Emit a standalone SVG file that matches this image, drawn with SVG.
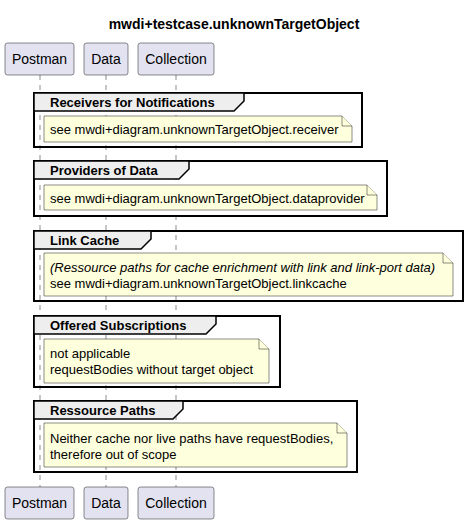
<svg xmlns="http://www.w3.org/2000/svg" width="468" height="524" viewBox="0 0 468 524">
<style>
text{font-family:"Liberation Sans",Arial,sans-serif;fill:#000}
.title{font-size:14px;font-weight:bold}
.pbox{fill:#E2E2F0;stroke:#181818;stroke-width:0.5}
.pt{font-size:14px;text-anchor:middle}
.life{stroke:#181818;stroke-width:0.5;stroke-dasharray:5,5;fill:none}
.frame{fill:none;stroke:#000;stroke-width:2}
.tab{fill:#EEEEEE;stroke:#000;stroke-width:1.5}
.gt{font-size:13px;font-weight:bold}
.note{fill:#FEFFDD;stroke:#181818;stroke-width:0.5}
.nt{font-size:13px}
.it{font-style:italic}
</style>
<rect width="468" height="524" fill="#FFFFFF"/>
<text class="title" x="234" y="29" text-anchor="middle">mwdi+testcase.unknownTargetObject</text>

<g id="connectors">
<line class="life" x1="40" y1="75" x2="40" y2="487"/>
<line class="life" x1="106" y1="75" x2="106" y2="487"/>
<line class="life" x1="176" y1="75" x2="176" y2="487"/>
</g>

<g id="participant-postman">
<rect class="pbox" x="5" y="43" width="69" height="32" rx="2.5"/>
<text class="pt" x="39.5" y="64">Postman</text>
<rect class="pbox" x="5" y="487" width="69" height="32" rx="2.5"/>
<text class="pt" x="39.5" y="508">Postman</text>
</g>
<g id="participant-data">
<rect class="pbox" x="84" y="43" width="44" height="32" rx="2.5"/>
<text class="pt" x="106" y="64">Data</text>
<rect class="pbox" x="84" y="487" width="44" height="32" rx="2.5"/>
<text class="pt" x="106" y="508">Data</text>
</g>
<g id="participant-collection">
<rect class="pbox" x="138" y="43" width="76" height="32" rx="2.5"/>
<text class="pt" x="176" y="64">Collection</text>
<rect class="pbox" x="138" y="487" width="76" height="32" rx="2.5"/>
<text class="pt" x="176" y="508">Collection</text>
</g>

<g id="group-receivers">
<rect class="frame" x="34" y="93" width="328" height="54"/>
<path class="tab" d="M34,93 L244,93 L244,101 L234,111 L34,111 Z"/>
<text class="gt" x="50" y="107">Receivers for Notifications</text>
<path class="note" d="M44,116 L342,116 L352,126 L352,142 L44,142 Z"/>
<path class="note" d="M342,116 L342,126 L352,126"/>
<text class="nt" x="50" y="134">see mwdi+diagram.unknownTargetObject.receiver</text>
</g>

<g id="group-providers">
<rect class="frame" x="34" y="161" width="353" height="55"/>
<path class="tab" d="M34,161 L189,161 L189,169 L179,179 L34,179 Z"/>
<text class="gt" x="50" y="175">Providers of Data</text>
<path class="note" d="M44,185 L367,185 L377,195 L377,210 L44,210 Z"/>
<path class="note" d="M367,185 L367,195 L377,195"/>
<text class="nt" x="50" y="203">see mwdi+diagram.unknownTargetObject.dataprovider</text>
</g>

<g id="group-linkcache">
<rect class="frame" x="34" y="231" width="429" height="70"/>
<path class="tab" d="M34,231 L151,231 L151,239 L141,249 L34,249 Z"/>
<text class="gt" x="50" y="245">Link Cache</text>
<path class="note" d="M44,253 L443,253 L453,263 L453,296 L44,296 Z"/>
<path class="note" d="M443,253 L443,263 L453,263"/>
<text class="nt it" x="50" y="272">(Ressource paths for cache enrichment with link and link-port data)</text>
<text class="nt" x="50" y="287.5">see mwdi+diagram.unknownTargetObject.linkcache</text>
</g>

<g id="group-offered">
<rect class="frame" x="34" y="316" width="246" height="71"/>
<path class="tab" d="M34,316 L216,316 L216,324 L206,334 L34,334 Z"/>
<text class="gt" x="50" y="330">Offered Subscriptions</text>
<path class="note" d="M44,339 L259,339 L269,349 L269,383 L44,383 Z"/>
<path class="note" d="M259,339 L259,349 L269,349"/>
<text class="nt" x="50" y="358">not applicable</text>
<text class="nt" x="50" y="373.5">requestBodies without target object</text>
</g>

<g id="group-ressource">
<rect class="frame" x="34" y="401" width="323" height="71"/>
<path class="tab" d="M34,401 L183,401 L183,409 L173,419 L34,419 Z"/>
<text class="gt" x="50" y="415">Ressource Paths</text>
<path class="note" d="M44,423 L337,423 L347,433 L347,467 L44,467 Z"/>
<path class="note" d="M337,423 L337,433 L347,433"/>
<text class="nt" x="50" y="443">Neither cache nor live paths have requestBodies,</text>
<text class="nt" x="50" y="459">therefore out of scope</text>
</g>
</svg>
